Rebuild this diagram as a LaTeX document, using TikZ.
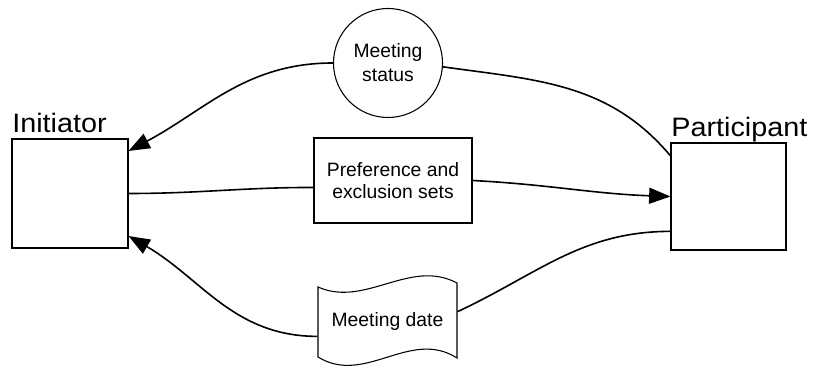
\documentclass[tikz,border=0pt]{standalone}
\usepackage{fontspec}
\setmainfont{Liberation Sans}
\usetikzlibrary{arrows.meta}

\begin{document}
\begin{tikzpicture}[x=0.75pt,y=0.75pt,
  box/.style={draw, line width=0.8pt, rectangle, inner sep=0pt},
  store/.style={draw, line width=0.8pt, align=center, font=\fontsize{14.5}{18}\selectfont},
  role/.style={inner sep=0pt, anchor=base west, xscale=1.08, font=\fontsize{20}{24}\selectfont},
  flow/.style={line width=1.2pt},
  tip/.style={-{Triangle[length=16pt,width=12pt]}}]
\useasboundingbox (0,0) rectangle (813,370);
\node[box, minimum width=87pt, minimum height=81.75pt] (init) at (70,176.5) {};
\node[box, minimum width=86.25pt, minimum height=80.25pt] (part) at (728.5,173.5) {};
\node[role] (initlab) at (12,237) {Initiator};
\node[role] (partlab) at (671,233) {Participant};
\node[store, circle, minimum size=81.75pt, inner sep=0pt] (status) at (388,307) {Meeting\\status};
\node[store, rectangle, minimum width=118.5pt, minimum height=63.75pt, font=\fontsize{14.5}{16.3}\selectfont] (pref) at (393,189.5) {Preference and\\exclusion sets};
\node[store, draw=none, rectangle, minimum width=104.25pt, minimum height=54pt] (date) at (387.5,48.5) {Meeting date};
\draw[line width=0.8pt, shift={(date.center)}] (-69.5,34.5) .. controls (-22.5,13.5) and (22.5,63.5) .. (69.5,38.5)
  -- (69.5,-36.5) .. controls (22.5,-6.5) and (-22.5,-64.5) .. (-69.5,-35.5) -- cycle;
\draw[flow, tip] (status.west) to[out=180, in=28] (init.36);
\draw[flow] (init.east) to[out=0, in=180] (pref.185);
\draw[flow, tip] (pref.east) to[out=-3, in=178] (part.west);
\draw[flow] (status.-4) to[out=-8, in=130] (part.145);
\draw[flow] (part.211) to[out=180, in=25] (date.8);
\draw[flow, tip] (date.192) to[out=180, in=-30] (init.-36);
\end{tikzpicture}
\end{document}
